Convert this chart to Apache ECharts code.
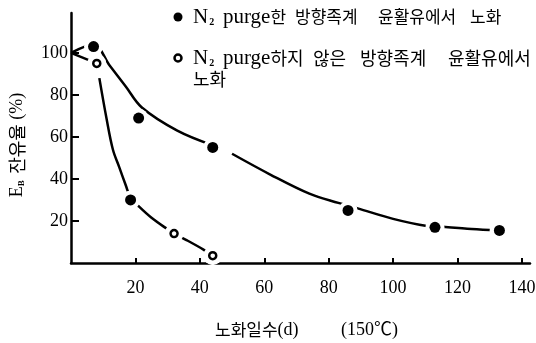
<!DOCTYPE html>
<html><head><meta charset="utf-8">
<script src="https://cdn.jsdelivr.net/npm/echarts@6/dist/echarts.min.js"></script>
<style>html,body{margin:0;padding:0;background:#fff}#c{width:536px;height:343px}</style>
</head><body><div id="c"></div>
<script>
// ---- data ----
const xTicks = [20, 40, 60, 80, 100, 120, 140];
const yTicks = [20, 40, 60, 80, 100];
const purgedPoints = [[7, 103], [21, 69], [44, 55], [86, 25], [113, 17], [133, 15.5]];
const unpurgedPoints = [[8, 95], [18.5, 30], [32, 14], [44, 3.5]];
const purgedCurve = [[0, 100], [7, 104], [12, 94], [17, 84], [22, 74], [33, 63], [44, 56], null,
  [50, 52], [62, 42], [74, 33], [83, 28.6], [89, 26], [100, 21], [110.5, 17.6], [115.5, 17.2], [123, 16.3], [130, 15.7]];
const unpurgedCurve = [[0, 100], [8, 95], null,
  [8.8, 88], [11, 69], [13, 54], [15, 45.5], [17, 37], [18.5, 31], [21, 27], [25, 21.5], [30, 16], [32, 14], [36, 10.8], [41, 6.5], [44, 3.5]];
const legendLines = ['N₂ purge한 방향족계 윤활유에서 노화', 'N₂ purge하지 않은 방향족계 윤활유에서', '노화'];
const xNameParts = ['노화일수(d)', '(150℃)'];
const yName = 'E₈ 잔유율 (%)';

const SERIF = '"Liberation Serif", "Noto Sans CJK KR", serif';
const KOR = '"Noto Sans CJK KR", sans-serif';
const chart = echarts.init(document.getElementById('c'), null, {renderer: 'canvas'});

// layout for legend words (x positions of each word, per line)
const legendLayout = [
  {y: 17, k: 17, xs: [193, 223, 295, 378, 470]},
  {y: 58, k: 18, xs: [193, 223, 313, 360, 448]},
  {y: 79, k: 18, xs: [193]}
];
function richStyles(k) {
  return {
    l: {font: '21px ' + SERIF, fill: '#000', verticalAlign: 'middle'},
    s: {font: 'bold 10px ' + SERIF, fill: '#000', verticalAlign: 'bottom', padding: [8, 0, 0, 1]},
    k: {font: k + 'px ' + KOR, fill: '#000', verticalAlign: 'middle'}
  };
}
function richify(word) {
  let out = '', cur = null, buf = '';
  const flush = () => { if (buf) out += '{' + cur + '|' + buf + '}'; buf = ''; };
  for (const ch of word) {
    const t = ch === '₂' ? 's' : (/[\uAC00-\uD7A3]/.test(ch) ? 'k' : 'l');
    const c = ch === '₂' ? '2' : ch;
    if (t !== cur) { flush(); cur = t; }
    buf += c;
  }
  flush();
  return out;
}
const legendGraphics = [];
legendLines.forEach((line, li) => {
  const lay = legendLayout[li];
  line.split(' ').forEach((w, wi) => {
    legendGraphics.push({type: 'text', x: lay.xs[wi], y: lay.y, z: 10,
      style: {text: richify(w), rich: richStyles(lay.k), textVerticalAlign: 'middle', fill: '#000', font: '17px ' + KOR}});
  });
});

const axisCommon = {
  type: 'value',
  axisLine: {show: true, lineStyle: {color: '#000', width: 2.5}},
  splitLine: {show: false},
  axisLabel: {color: '#000', fontFamily: SERIF, fontSize: 18},
  axisTick: {show: true, inside: true, lineStyle: {color: '#000', width: 2}}
};

const allPoints = purgedPoints.concat(unpurgedPoints);

chart.setOption({
  animation: false,
  backgroundColor: '#fff',
  grid: {left: 71, right: 6, top: 13, bottom: 80, containLabel: false, outerBoundsMode: 'none'},
  xAxis: Object.assign({}, axisCommon, {
    min: 0, max: 142.5,
    axisLabel: Object.assign({}, axisCommon.axisLabel, {customValues: xTicks, margin: 16}),
    axisTick: Object.assign({}, axisCommon.axisTick, {customValues: xTicks, length: 5})
  }),
  yAxis: Object.assign({}, axisCommon, {
    min: 0, max: 119,
    axisLabel: Object.assign({}, axisCommon.axisLabel, {customValues: yTicks, margin: 3}),
    axisTick: Object.assign({}, axisCommon.axisTick, {customValues: yTicks, length: 8})
  }),
  series: [
    {type: 'line', data: purgedCurve, smooth: 0.35, showSymbol: false, symbol: 'none', connectNulls: false,
      lineStyle: {color: '#000', width: 2.5}, z: 2},
    {type: 'line', data: unpurgedCurve, smooth: 0.35, showSymbol: false, symbol: 'none', connectNulls: false,
      lineStyle: {color: '#000', width: 2.5}, z: 2},
    {type: 'scatter', data: allPoints, symbolSize: 19, itemStyle: {color: '#fff', opacity: 1}, z: 3, silent: true},
    {type: 'scatter', data: purgedPoints, symbolSize: 11, itemStyle: {color: '#000', opacity: 1}, z: 4},
    {type: 'scatter', data: unpurgedPoints.map((p, i) => i === 1
        ? {value: p, symbolSize: 11, itemStyle: {color: '#000', borderWidth: 0}}
        : {value: p}),
      symbolSize: 7, itemStyle: {color: '#fff', borderColor: '#000', borderWidth: 2.5, opacity: 1}, z: 4}
  ],
  graphic: [
    {type: 'circle', shape: {cx: 178, cy: 17, r: 4.5}, style: {fill: '#000'}, z: 10},
    {type: 'circle', shape: {cx: 178, cy: 58, r: 3.5}, style: {fill: '#fff', stroke: '#000', lineWidth: 2.5}, z: 10},
    ...legendGraphics,
    {type: 'text', x: 215, y: 330, style: {text: richify(xNameParts[0]), rich: {
        l: {font: '18px ' + SERIF, fill: '#000', verticalAlign: 'middle'},
        k: {font: '17px ' + KOR, fill: '#000', verticalAlign: 'middle'}}, textVerticalAlign: 'middle'}, z: 10},
    {type: 'text', x: 398, y: 330, style: {text: xNameParts[1], font: '18px ' + SERIF, fill: '#000', textAlign: 'right', textVerticalAlign: 'middle'}, z: 10},
    {type: 'text', x: 17, y: 145, rotation: Math.PI / 2,
      style: {text: '{e|E}{b|B} ' + richify(yName.slice(3)), fill: '#000', textAlign: 'center', textVerticalAlign: 'middle',
        rich: {
          e: {font: '18px ' + SERIF, fill: '#000', verticalAlign: 'middle'},
          b: {font: 'bold 9px ' + SERIF, fill: '#000', verticalAlign: 'bottom', padding: [7, 2, 0, 0]},
          l: {font: '18px ' + SERIF, fill: '#000', verticalAlign: 'middle'},
          k: {font: '18px ' + KOR, fill: '#000', verticalAlign: 'middle'}
        }, font: '18px ' + SERIF}, z: 10}
  ]
});
</script></body></html>
